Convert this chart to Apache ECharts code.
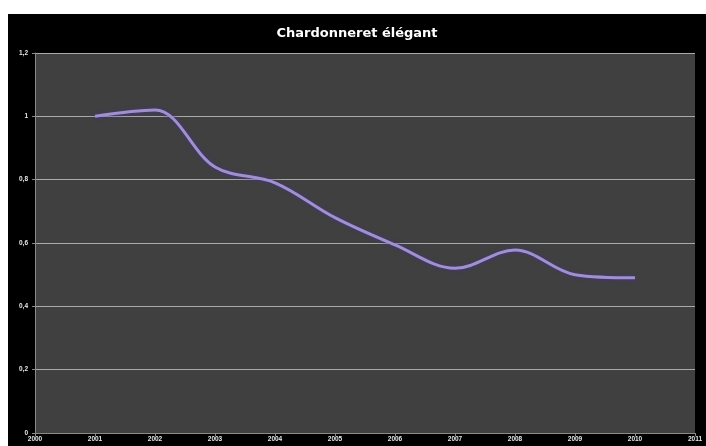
<!DOCTYPE html>
<html><head><meta charset="utf-8">
<script src="https://cdn.jsdelivr.net/npm/echarts@6/dist/echarts.min.js"></script>
<style>
html,body{margin:0;padding:0;background:#fff;}
#c{position:absolute;left:8px;top:14px;width:698px;height:432px;background:#000;}
</style></head><body>
<div id="c"></div>
<script>
const title = 'Chardonneret élégant';
const years = [2001, 2002, 2003, 2004, 2005, 2006, 2007, 2008, 2009, 2010];
const values = [1.0, 1.02, 0.84, 0.79, 0.68, 0.594, 0.52, 0.578, 0.5, 0.49];
const xMin = 2000, xMax = 2011;
const yTicks = [0, 0.2, 0.4, 0.6, 0.8, 1, 1.2];

const chart = echarts.init(document.getElementById('c'));
chart.setOption({
  backgroundColor: '#000',
  animation: false,
  title: {text: title, left: 'center', top: 8,
    textStyle: {color: '#fff', fontSize: 13, fontWeight: 'bold', fontFamily: 'DejaVu Sans'}},
  grid: {left: 27, right: 11, top: 39, bottom: 13, show: true, backgroundColor: '#404040', borderWidth: 0},
  xAxis: {type: 'value', min: xMin, max: xMax, interval: 1,
    axisLine: {show: true, lineStyle: {color: '#8a8a8a'}},
    axisTick: {show: true, length: 3, lineStyle: {color: '#8a8a8a'}},
    axisLabel: {color: '#e8e8e8', fontSize: 6.5, fontWeight: 'bold', margin: 3, formatter: v => String(v)},
    splitLine: {show: false}},
  yAxis: {type: 'value', min: yTicks[0], max: yTicks[yTicks.length-1], interval: 0.2,
    axisLine: {show: true, lineStyle: {color: '#8a8a8a'}},
    axisTick: {show: true, length: 3, lineStyle: {color: '#8a8a8a'}},
    axisLabel: {color: '#e8e8e8', fontSize: 6.5, fontWeight: 'bold', margin: 7,
      formatter: v => String(Math.round(v*10)/10).replace('.', ',')},
    splitLine: {show: true, lineStyle: {color: '#aaaaaa', width: 1}}},
  series: [{type: 'line', data: years.map((y, i) => [y, values[i]]),
    smooth: 0.35, symbol: 'none',
    lineStyle: {color: '#a090d0', width: 3, shadowColor: 'rgba(70,50,140,0.9)', shadowBlur: 4}}]
});
</script>
</body></html>
